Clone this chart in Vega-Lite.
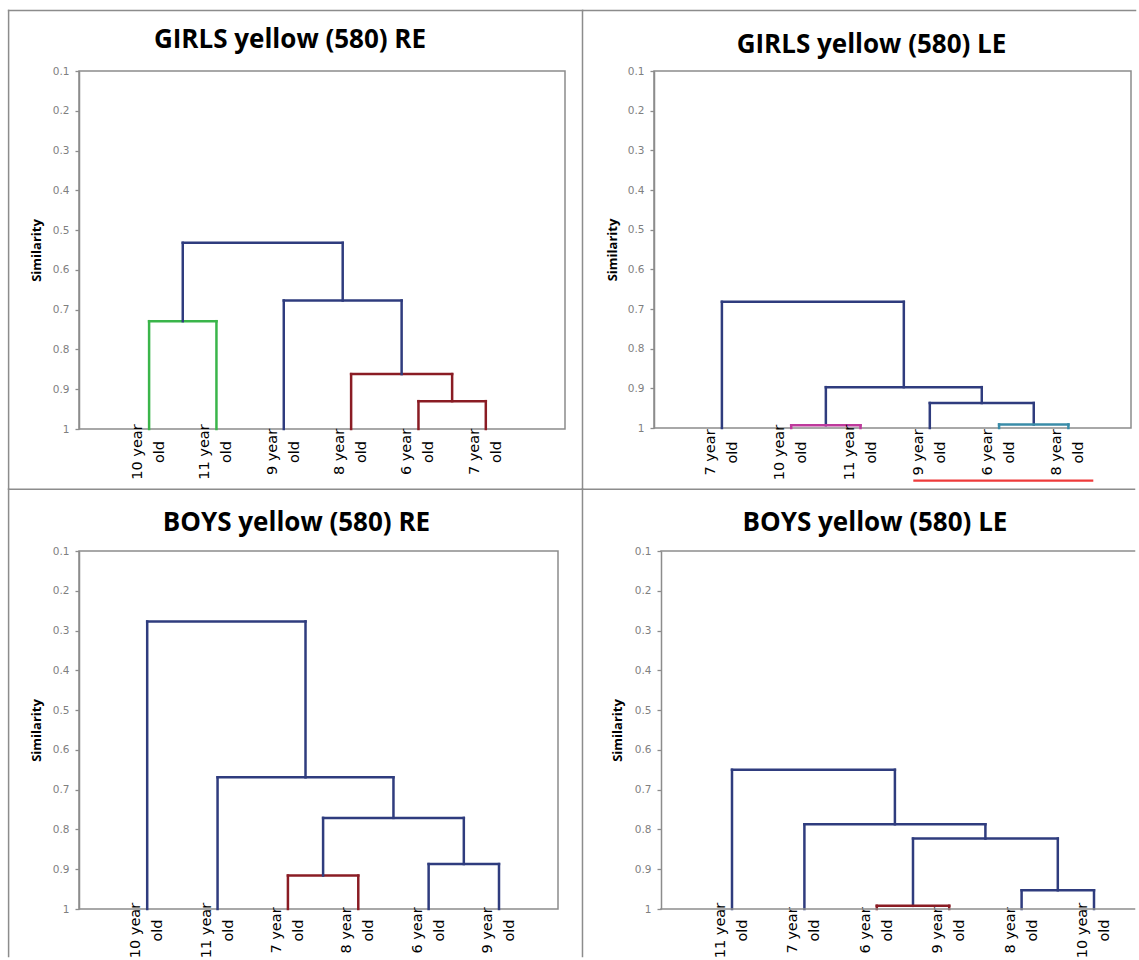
{
  "$schema": "https://vega.github.io/schema/vega-lite/v6.json",
  "padding": {"left": 6, "top": 8, "right": 0, "bottom": 0},
  "background": "white",
  "spacing": -4,
  "config": {
    "view": {"stroke": "#8c8c8c", "strokeWidth": 1.5},
    "title": {"font": "Open Sans", "fontSize": 26, "fontWeight": "bold", "color": "#000000", "anchor": "middle", "frame": "group", "baseline": "middle"},
    "axis": {"grid": false, "tickSize": 4, "tickColor": "#8c8c8c", "tickWidth": 1.3, "domainColor": "#8c8c8c", "domainWidth": 1.5, "labelFont": "DejaVu Sans", "labelFontSize": 10.5, "labelColor": "#7f7f7f", "labelPadding": 6, "labelOverlap": false, "titleFont": "Open Sans", "titleFontWeight": "bold", "titleFontSize": 13, "titleColor": "#000000", "titleAngle": 270, "titleAlign": "center", "titleBaseline": "middle"}
  },
  "datasets": {
    "segments": [
      {"panel": "GRE", "x": 1, "x2": 1, "y": 1, "y2": 0.729, "cluster": "green"},
      {"panel": "GRE", "x": 2, "x2": 2, "y": 1, "y2": 0.729, "cluster": "green"},
      {"panel": "GRE", "x": 1, "x2": 2, "y": 0.729, "y2": 0.729, "cluster": "green"},
      {"panel": "GRE", "x": 5, "x2": 5, "y": 1, "y2": 0.93, "cluster": "darkred"},
      {"panel": "GRE", "x": 6, "x2": 6, "y": 1, "y2": 0.93, "cluster": "darkred"},
      {"panel": "GRE", "x": 5, "x2": 6, "y": 0.93, "y2": 0.93, "cluster": "darkred"},
      {"panel": "GRE", "x": 4, "x2": 4, "y": 1, "y2": 0.862, "cluster": "darkred"},
      {"panel": "GRE", "x": 5.5, "x2": 5.5, "y": 0.93, "y2": 0.862, "cluster": "darkred"},
      {"panel": "GRE", "x": 4, "x2": 5.5, "y": 0.862, "y2": 0.862, "cluster": "darkred"},
      {"panel": "GRE", "x": 3, "x2": 3, "y": 1, "y2": 0.677, "cluster": "navy"},
      {"panel": "GRE", "x": 4.75, "x2": 4.75, "y": 0.862, "y2": 0.677, "cluster": "navy"},
      {"panel": "GRE", "x": 3, "x2": 4.75, "y": 0.677, "y2": 0.677, "cluster": "navy"},
      {"panel": "GRE", "x": 1.5, "x2": 1.5, "y": 0.729, "y2": 0.532, "cluster": "navy"},
      {"panel": "GRE", "x": 3.875, "x2": 3.875, "y": 0.677, "y2": 0.532, "cluster": "navy"},
      {"panel": "GRE", "x": 1.5, "x2": 3.875, "y": 0.532, "y2": 0.532, "cluster": "navy"},

      {"panel": "GLE", "x": 4, "x2": 4, "y": 1, "y2": 0.937, "cluster": "navy"},
      {"panel": "GLE", "x": 5.5, "x2": 5.5, "y": 0.991, "y2": 0.937, "cluster": "navy"},
      {"panel": "GLE", "x": 4, "x2": 5.5, "y": 0.937, "y2": 0.937, "cluster": "navy"},
      {"panel": "GLE", "x": 2.5, "x2": 2.5, "y": 0.993, "y2": 0.897, "cluster": "navy"},
      {"panel": "GLE", "x": 4.75, "x2": 4.75, "y": 0.937, "y2": 0.897, "cluster": "navy"},
      {"panel": "GLE", "x": 2.5, "x2": 4.75, "y": 0.897, "y2": 0.897, "cluster": "navy"},
      {"panel": "GLE", "x": 1, "x2": 1, "y": 1, "y2": 0.682, "cluster": "navy"},
      {"panel": "GLE", "x": 3.625, "x2": 3.625, "y": 0.897, "y2": 0.682, "cluster": "navy"},
      {"panel": "GLE", "x": 1, "x2": 3.625, "y": 0.682, "y2": 0.682, "cluster": "navy"},
      {"panel": "GLE", "x": 2, "x2": 2, "y": 1, "y2": 0.993, "cluster": "magenta"},
      {"panel": "GLE", "x": 3, "x2": 3, "y": 1, "y2": 0.993, "cluster": "magenta"},
      {"panel": "GLE", "x": 2, "x2": 3, "y": 0.993, "y2": 0.993, "cluster": "magenta"},
      {"panel": "GLE", "x": 5, "x2": 5, "y": 1, "y2": 0.991, "cluster": "teal"},
      {"panel": "GLE", "x": 6, "x2": 6, "y": 1, "y2": 0.991, "cluster": "teal"},
      {"panel": "GLE", "x": 5, "x2": 6, "y": 0.991, "y2": 0.991, "cluster": "teal"},

      {"panel": "BRE", "x": 3, "x2": 3, "y": 1, "y2": 0.916, "cluster": "darkred"},
      {"panel": "BRE", "x": 4, "x2": 4, "y": 1, "y2": 0.916, "cluster": "darkred"},
      {"panel": "BRE", "x": 3, "x2": 4, "y": 0.916, "y2": 0.916, "cluster": "darkred"},
      {"panel": "BRE", "x": 5, "x2": 5, "y": 1, "y2": 0.887, "cluster": "navy"},
      {"panel": "BRE", "x": 6, "x2": 6, "y": 1, "y2": 0.887, "cluster": "navy"},
      {"panel": "BRE", "x": 5, "x2": 6, "y": 0.887, "y2": 0.887, "cluster": "navy"},
      {"panel": "BRE", "x": 3.5, "x2": 3.5, "y": 0.916, "y2": 0.771, "cluster": "navy"},
      {"panel": "BRE", "x": 5.5, "x2": 5.5, "y": 0.887, "y2": 0.771, "cluster": "navy"},
      {"panel": "BRE", "x": 3.5, "x2": 5.5, "y": 0.771, "y2": 0.771, "cluster": "navy"},
      {"panel": "BRE", "x": 2, "x2": 2, "y": 1, "y2": 0.669, "cluster": "navy"},
      {"panel": "BRE", "x": 4.5, "x2": 4.5, "y": 0.771, "y2": 0.669, "cluster": "navy"},
      {"panel": "BRE", "x": 2, "x2": 4.5, "y": 0.669, "y2": 0.669, "cluster": "navy"},
      {"panel": "BRE", "x": 1, "x2": 1, "y": 1, "y2": 0.277, "cluster": "navy"},
      {"panel": "BRE", "x": 3.25, "x2": 3.25, "y": 0.669, "y2": 0.277, "cluster": "navy"},
      {"panel": "BRE", "x": 1, "x2": 3.25, "y": 0.277, "y2": 0.277, "cluster": "navy"},

      {"panel": "BLE", "x": 5, "x2": 5, "y": 1, "y2": 0.953, "cluster": "navy"},
      {"panel": "BLE", "x": 6, "x2": 6, "y": 1, "y2": 0.953, "cluster": "navy"},
      {"panel": "BLE", "x": 5, "x2": 6, "y": 0.953, "y2": 0.953, "cluster": "navy"},
      {"panel": "BLE", "x": 3.5, "x2": 3.5, "y": 0.992, "y2": 0.823, "cluster": "navy"},
      {"panel": "BLE", "x": 5.5, "x2": 5.5, "y": 0.953, "y2": 0.823, "cluster": "navy"},
      {"panel": "BLE", "x": 3.5, "x2": 5.5, "y": 0.823, "y2": 0.823, "cluster": "navy"},
      {"panel": "BLE", "x": 2, "x2": 2, "y": 1, "y2": 0.787, "cluster": "navy"},
      {"panel": "BLE", "x": 4.5, "x2": 4.5, "y": 0.823, "y2": 0.787, "cluster": "navy"},
      {"panel": "BLE", "x": 2, "x2": 4.5, "y": 0.787, "y2": 0.787, "cluster": "navy"},
      {"panel": "BLE", "x": 1, "x2": 1, "y": 1, "y2": 0.65, "cluster": "navy"},
      {"panel": "BLE", "x": 3.25, "x2": 3.25, "y": 0.787, "y2": 0.65, "cluster": "navy"},
      {"panel": "BLE", "x": 1, "x2": 3.25, "y": 0.65, "y2": 0.65, "cluster": "navy"},
      {"panel": "BLE", "x": 3, "x2": 3, "y": 1, "y2": 0.992, "cluster": "darkred"},
      {"panel": "BLE", "x": 4, "x2": 4, "y": 1, "y2": 0.992, "cluster": "darkred"},
      {"panel": "BLE", "x": 3, "x2": 4, "y": 0.992, "y2": 0.992, "cluster": "darkred"}
    ],
    "leaves": [
      {"panel": "GRE", "x": 1, "label": "10 year\nold"},
      {"panel": "GRE", "x": 2, "label": "11 year\nold"},
      {"panel": "GRE", "x": 3, "label": "9 year\nold"},
      {"panel": "GRE", "x": 4, "label": "8 year\nold"},
      {"panel": "GRE", "x": 5, "label": "6 year\nold"},
      {"panel": "GRE", "x": 6, "label": "7 year\nold"},
      {"panel": "GLE", "x": 1, "label": "7 year\nold"},
      {"panel": "GLE", "x": 2, "label": "10 year\nold"},
      {"panel": "GLE", "x": 3, "label": "11 year\nold"},
      {"panel": "GLE", "x": 4, "label": "9 year\nold"},
      {"panel": "GLE", "x": 5, "label": "6 year\nold"},
      {"panel": "GLE", "x": 6, "label": "8 year\nold"},
      {"panel": "BRE", "x": 1, "label": "10 year\nold"},
      {"panel": "BRE", "x": 2, "label": "11 year\nold"},
      {"panel": "BRE", "x": 3, "label": "7 year\nold"},
      {"panel": "BRE", "x": 4, "label": "8 year\nold"},
      {"panel": "BRE", "x": 5, "label": "6 year\nold"},
      {"panel": "BRE", "x": 6, "label": "9 year\nold"},
      {"panel": "BLE", "x": 1, "label": "11 year\nold"},
      {"panel": "BLE", "x": 2, "label": "7 year\nold"},
      {"panel": "BLE", "x": 3, "label": "6 year\nold"},
      {"panel": "BLE", "x": 4, "label": "9 year\nold"},
      {"panel": "BLE", "x": 5, "label": "8 year\nold"},
      {"panel": "BLE", "x": 6, "label": "10 year\nold"}
    ]
  },
  "vconcat": [
    {
      "spacing": -4,
      "hconcat": [
        {
          "width": 486, "height": 358,
          "title": {"text": "GIRLS yellow (580) RE", "dx": -32, "offset": -43.5},
          "layer": [
            {
              "data": {"name": "segments"},
              "transform": [{"filter": "datum.panel === 'GRE'"}],
              "mark": {"type": "rule", "strokeWidth": 2.5, "strokeCap": "square"},
              "encoding": {
                "x": {"field": "x", "type": "quantitative", "scale": {"domain": [-0.041, 7.1761], "nice": false, "zero": false}, "axis": null},
                "x2": {"field": "x2"},
                "y": {"field": "y", "type": "quantitative", "scale": {"domain": [0.1, 1], "reverse": true, "nice": false, "zero": false},
                      "axis": {"title": "Similarity", "values": [0.1, 0.2, 0.3, 0.4, 0.5, 0.6, 0.7, 0.8, 0.9, 1], "tickCount": 20, "format": ".1~f", "labelOverlap": false, "titleX": -43, "titleY": 179}},
                "y2": {"field": "y2"},
                "color": {"field": "cluster", "type": "nominal", "legend": null,
                          "scale": {"domain": ["navy", "green", "darkred", "magenta", "teal"], "range": ["#2F3C7E", "#3AB54A", "#8A1C24", "#BE3A9C", "#3A8CA8"]}}
              }
            },
            {
              "data": {"name": "leaves"},
              "transform": [{"filter": "datum.panel === 'GRE'"}],
              "mark": {"type": "text", "angle": 270, "align": "center", "baseline": "middle", "dx": -23, "dy": -11, "lineBreak": "\n", "lineHeight": 22, "font": "DejaVu Sans", "fontSize": 14.5, "color": "#000000"},
              "encoding": {"x": {"field": "x", "type": "quantitative"}, "y": {"datum": 1, "type": "quantitative"}, "text": {"field": "label"}}
            },
            {
              "data": {"values": [{}]},
              "mark": {"type": "rule", "color": "#8c8c8c", "strokeWidth": 1.5, "strokeCap": "square"},
              "encoding": {"x": {"datum": -1.0864, "type": "quantitative"}, "y": {"datum": -0.0518, "type": "quantitative"}, "y2": {"datum": 1.1501}}
            },
            {
              "data": {"values": [{}]},
              "mark": {"type": "rule", "color": "#8c8c8c", "strokeWidth": 1.5, "strokeCap": "square"},
              "encoding": {"x": {"datum": 7.436, "type": "quantitative"}, "y": {"datum": -0.0518, "type": "quantitative"}, "y2": {"datum": 1.1501}}
            },
            {
              "data": {"values": [{}]},
              "mark": {"type": "rule", "color": "#8c8c8c", "strokeWidth": 1.5, "strokeCap": "square"},
              "encoding": {"x": {"datum": -1.0864, "type": "quantitative"}, "x2": {"datum": 7.436}, "y": {"datum": -0.0518, "type": "quantitative"}}
            }
          ]
        },
        {
          "width": 477, "height": 357,
          "title": {"text": "GIRLS yellow (580) LE", "dx": -21, "offset": -48.5},
          "layer": [
            {
              "data": {"name": "segments"},
              "transform": [{"filter": "datum.panel === 'GLE'"}],
              "mark": {"type": "rule", "strokeWidth": 2.5, "strokeCap": "square"},
              "encoding": {
                "x": {"field": "x", "type": "quantitative", "scale": {"domain": [0.0202, 6.9033], "nice": false, "zero": false}, "axis": null},
                "x2": {"field": "x2"},
                "y": {"field": "y", "type": "quantitative", "scale": {"domain": [0.1, 1], "reverse": true, "nice": false, "zero": false},
                      "axis": {"title": "Similarity", "values": [0.1, 0.2, 0.3, 0.4, 0.5, 0.6, 0.7, 0.8, 0.9, 1], "tickCount": 20, "format": ".1~f", "labelOverlap": false, "titleX": -42, "titleY": 178.5}},
                "y2": {"field": "y2"},
                "color": {"field": "cluster", "type": "nominal", "legend": null,
                          "scale": {"domain": ["navy", "green", "darkred", "magenta", "teal"], "range": ["#2F3C7E", "#3AB54A", "#8A1C24", "#BE3A9C", "#3A8CA8"]}}
              }
            },
            {
              "data": {"name": "leaves"},
              "transform": [{"filter": "datum.panel === 'GLE'"}],
              "mark": {"type": "text", "angle": 270, "align": "center", "baseline": "middle", "dx": -24.5, "dy": -11, "lineBreak": "\n", "lineHeight": 22, "font": "DejaVu Sans", "fontSize": 14.5, "color": "#000000"},
              "encoding": {"x": {"field": "x", "type": "quantitative"}, "y": {"datum": 1, "type": "quantitative"}, "text": {"field": "label"}}
            },
            {
              "data": {"values": [{}]},
              "mark": {"type": "rule", "color": "#8c8c8c", "strokeWidth": 1.5, "strokeCap": "square"},
              "encoding": {"x": {"datum": -1.0, "type": "quantitative"}, "x2": {"datum": 6.9683}, "y": {"datum": -0.0523, "type": "quantitative"}}
            },
            {
              "data": {"values": [{}]},
              "mark": {"type": "rule", "color": "#EE3B3B", "strokeWidth": 2.2},
              "encoding": {"x": {"datum": 3.7619, "type": "quantitative"}, "x2": {"datum": 6.3593}, "y": {"datum": 1.1328, "type": "quantitative"}}
            }
          ]
        }
      ]
    },
    {
      "spacing": -4,
      "hconcat": [
        {
          "width": 479, "height": 358,
          "title": {"text": "BOYS yellow (580) RE", "dx": -22, "offset": -47.5},
          "layer": [
            {
              "data": {"name": "segments"},
              "transform": [{"filter": "datum.panel === 'BRE'"}],
              "mark": {"type": "rule", "strokeWidth": 2.5, "strokeCap": "square"},
              "encoding": {
                "x": {"field": "x", "type": "quantitative", "scale": {"domain": [0.0307, 6.8386], "nice": false, "zero": false}, "axis": null},
                "x2": {"field": "x2"},
                "y": {"field": "y", "type": "quantitative", "scale": {"domain": [0.1, 1], "reverse": true, "nice": false, "zero": false},
                      "axis": {"title": "Similarity", "values": [0.1, 0.2, 0.3, 0.4, 0.5, 0.6, 0.7, 0.8, 0.9, 1], "tickCount": 20, "format": ".1~f", "labelOverlap": false, "titleX": -43, "titleY": 179}},
                "y2": {"field": "y2"},
                "color": {"field": "cluster", "type": "nominal", "legend": null,
                          "scale": {"domain": ["navy", "green", "darkred", "magenta", "teal"], "range": ["#2F3C7E", "#3AB54A", "#8A1C24", "#BE3A9C", "#3A8CA8"]}}
              }
            },
            {
              "data": {"name": "leaves"},
              "transform": [{"filter": "datum.panel === 'BRE'"}],
              "mark": {"type": "text", "angle": 270, "align": "center", "baseline": "middle", "dx": -21.5, "dy": -11, "lineBreak": "\n", "lineHeight": 22, "font": "DejaVu Sans", "fontSize": 14.5, "color": "#000000"},
              "encoding": {"x": {"field": "x", "type": "quantitative"}, "y": {"datum": 1, "type": "quantitative"}, "text": {"field": "label"}}
            },
            {
              "data": {"values": [{}]},
              "mark": {"type": "rule", "color": "#8c8c8c", "strokeWidth": 1.5, "strokeCap": "square"},
              "encoding": {"x": {"datum": -0.9699, "type": "quantitative"}, "x2": {"datum": 7.1866}, "y": {"datum": -0.0551, "type": "quantitative"}}
            },
            {
              "data": {"values": [{}]},
              "mark": {"type": "rule", "color": "#8c8c8c", "strokeWidth": 1.5, "strokeCap": "square"},
              "encoding": {"x": {"datum": -0.9699, "type": "quantitative"}, "y": {"datum": -0.0551, "type": "quantitative"}, "y2": {"datum": 1.1194}}
            },
            {
              "data": {"values": [{}]},
              "mark": {"type": "rule", "color": "#8c8c8c", "strokeWidth": 1.5, "strokeCap": "square"},
              "encoding": {"x": {"datum": 7.1866, "type": "quantitative"}, "y": {"datum": -0.0551, "type": "quantitative"}, "y2": {"datum": 1.1194}}
            }
          ]
        },
        {
          "width": 475, "height": 358,
          "view": {"stroke": null},
          "title": {"text": "BOYS yellow (580) LE", "dx": -23.5, "offset": -47.5},
          "layer": [
            {
              "data": {"name": "segments"},
              "transform": [{"filter": "datum.panel === 'BLE'"}],
              "mark": {"type": "rule", "strokeWidth": 2.5, "strokeCap": "square"},
              "encoding": {
                "x": {"field": "x", "type": "quantitative", "scale": {"domain": [0.01934, 6.5801], "nice": false, "zero": false}, "axis": null},
                "x2": {"field": "x2"},
                "y": {"field": "y", "type": "quantitative", "scale": {"domain": [0.1, 1], "reverse": true, "nice": false, "zero": false},
                      "axis": {"title": "Similarity", "values": [0.1, 0.2, 0.3, 0.4, 0.5, 0.6, 0.7, 0.8, 0.9, 1], "tickCount": 20, "format": ".1~f", "labelOverlap": false, "titleX": -44, "titleY": 179}},
                "y2": {"field": "y2"},
                "color": {"field": "cluster", "type": "nominal", "legend": null,
                          "scale": {"domain": ["navy", "green", "darkred", "magenta", "teal"], "range": ["#2F3C7E", "#3AB54A", "#8A1C24", "#BE3A9C", "#3A8CA8"]}}
              }
            },
            {
              "data": {"name": "leaves"},
              "transform": [{"filter": "datum.panel === 'BLE'"}],
              "mark": {"type": "text", "angle": 270, "align": "center", "baseline": "middle", "dx": -21.5, "dy": -11, "lineBreak": "\n", "lineHeight": 22, "font": "DejaVu Sans", "fontSize": 14.5, "color": "#000000"},
              "encoding": {"x": {"field": "x", "type": "quantitative"}, "y": {"datum": 1, "type": "quantitative"}, "text": {"field": "label"}}
            },
            {
              "data": {"values": [{}]},
              "mark": {"type": "rule", "color": "#8c8c8c", "strokeWidth": 1.5, "strokeCap": "square"},
              "encoding": {"x": {"datum": -1.0677, "type": "quantitative"}, "x2": {"datum": 6.5594}, "y": {"datum": -0.0551, "type": "quantitative"}}
            },
            {
              "data": {"values": [{}]},
              "mark": {"type": "rule", "color": "#8c8c8c", "strokeWidth": 1.5, "strokeCap": "square"},
              "encoding": {"x": {"datum": 0.01934, "type": "quantitative"}, "x2": {"datum": 6.5594}, "y": {"datum": 0.1, "type": "quantitative"}}
            },
            {
              "data": {"values": [{}]},
              "mark": {"type": "rule", "color": "#8c8c8c", "strokeWidth": 1.5, "strokeCap": "square"},
              "encoding": {"x": {"datum": 0.01934, "type": "quantitative"}, "x2": {"datum": 6.5594}, "y": {"datum": 1, "type": "quantitative"}}
            }
          ]
        }
      ]
    }
  ]
}
